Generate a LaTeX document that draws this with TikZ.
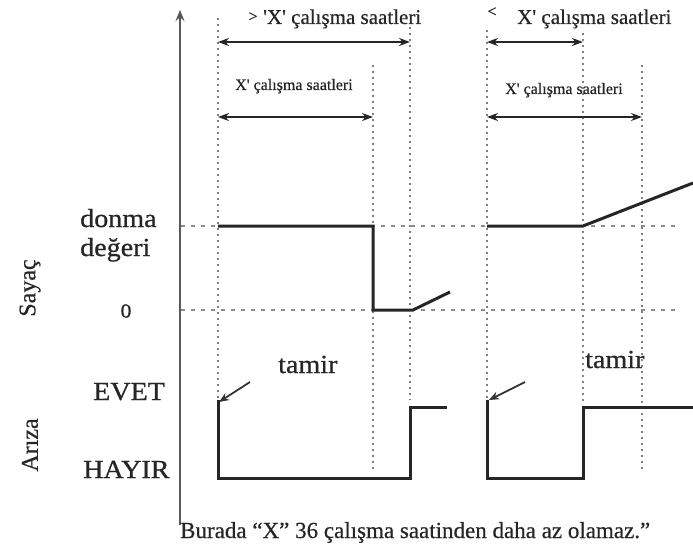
\documentclass[tikz,border=0pt]{standalone}
\usepackage{fontspec}
\setmainfont{Liberation Serif}
\newfontfamily\labfont[FakeStretch=1.08,FakeBold=0.8]{Liberation Serif}
\newfontfamily\txtfont[FakeBold=0.5]{Liberation Serif}
\usetikzlibrary{arrows.meta}
\begin{document}
\begin{tikzpicture}[x=1pt,y=-1pt,
  vgrid/.style={draw=black!50, line width=1.8pt, dash pattern=on 1.8pt off 4.2pt},
  hgrid/.style={draw=black!45, line width=1.6pt, dash pattern=on 4pt off 6pt},
  sig/.style={draw=black!85, line width=3pt, line join=miter},
  axisline/.style={draw=black!65, line width=2.2pt, -{Stealth[length=11pt,width=9pt]}},
  dimline/.style={draw=black!85, line width=2.2pt, {Stealth[length=11pt,width=8pt]}-{Stealth[length=11pt,width=8pt]}},
  ptr/.style={draw=black!80, line width=1.8pt, -{Stealth[length=10pt,width=8pt]}},
  labtxt/.style={font=\labfont\fontsize{26}{30}\selectfont, inner sep=0pt, text=black!85},
  sidetxt/.style={font=\txtfont\fontsize{24}{28}\selectfont, inner sep=0pt, rotate=90, text=black!85},
  toptxt/.style={font=\txtfont\fontsize{21}{25}\selectfont, inner sep=0pt, text=black!85},
  smalltxt/.style={font=\txtfont\fontsize{16}{19}\selectfont, inner sep=0pt, text=black!85},
  captxt/.style={font=\txtfont\fontsize{23}{27}\selectfont, inner sep=0pt, text=black!85}]
\useasboundingbox (0,0) rectangle (693,559);

% axis
\coordinate (ax0) at (180,525);
\coordinate (ax1) at (180,10);
\draw[axisline] (ax0) -- (ax1);

% vertical dotted guides
\coordinate (v1t) at (218,18);  \coordinate (v1b) at (218,400);
\coordinate (v2t) at (373,65);  \coordinate (v2b) at (373,472);
\coordinate (v3t) at (410,27);  \coordinate (v3b) at (410,400);
\coordinate (v4t) at (487,30);  \coordinate (v4b) at (487,400);
\coordinate (v5t) at (583,33);  \coordinate (v5b) at (583,405);
\coordinate (v6t) at (642,65);  \coordinate (v6b) at (642,472);
\foreach \i in {1,...,6} \draw[vgrid] (v\i t) -- (v\i b);

% horizontal dashed levels
\coordinate (h1a) at (181,226); \coordinate (h1b) at (680,226);
\coordinate (h2a) at (181,310); \coordinate (h2b) at (680,310);
\draw[hgrid] (h1a) -- (h1b);
\draw[hgrid] (h2a) -- (h2b);

% counter signals
\coordinate (s1) at (218,226); \coordinate (s2) at (373,226);
\coordinate (s3) at (373,310); \coordinate (s4) at (413,310);
\coordinate (s5) at (450,292);
\draw[sig] (s1) -- (s2) -- (s3) -- (s4) -- (s5);
\coordinate (r1) at (487,226); \coordinate (r2) at (583,226);
\coordinate (r3) at (693,183);
\draw[sig] (r1) -- (r2) -- (r3);

% fault signals
\coordinate (f1) at (218,400); \coordinate (f2) at (218,478);
\coordinate (f3) at (410,478); \coordinate (f4) at (410,407);
\coordinate (f5) at (447,407);
\draw[sig] (f1) -- (f2) -- (f3) -- (f4) -- (f5);
\coordinate (g1) at (487,400); \coordinate (g2) at (487,478);
\coordinate (g3) at (583,478); \coordinate (g4) at (583,407);
\coordinate (g5) at (693,407);
\draw[sig] (g1) -- (g2) -- (g3) -- (g4) -- (g5);

% pointer arrows
\coordinate (p1s) at (250,382); \coordinate (p1e) at (219,402);
\coordinate (p2s) at (525,382); \coordinate (p2e) at (489,400);
\draw[ptr] (p1s) -- (p1e);
\draw[ptr] (p2s) -- (p2e);

% dimension arrows
\coordinate (d1a) at (218,42);  \coordinate (d1b) at (410,42);
\coordinate (d2a) at (218,117); \coordinate (d2b) at (373,117);
\coordinate (d3a) at (487,42);  \coordinate (d3b) at (583,42);
\coordinate (d4a) at (487,117); \coordinate (d4b) at (642,117);
\draw[dimline] (d1a) -- (d1b);
\draw[dimline] (d2a) -- (d2b);
\draw[dimline] (d3a) -- (d3b);
\draw[dimline] (d4a) -- (d4b);

% top labels
\node[toptxt, font=\txtfont\fontsize{16}{18}\selectfont] (gt) at (253,17) {>};
\node[toptxt, anchor=base west] (t1) at (263,24) {'X' çalışma saatleri};
\node[toptxt, font=\txtfont\fontsize{16}{18}\selectfont] (lt) at (492,12) {<};
\node[toptxt, anchor=base west] (t2) at (517,24) {X' çalışma saatleri};
\node[smalltxt, anchor=base west] (t3) at (235,90) {X' çalışma saatleri};
\node[smalltxt, anchor=base west] (t4) at (505,94) {X' çalışma saatleri};

% left labels
\node[labtxt, anchor=base west] (donma) at (80,227) {donma};
\node[labtxt, anchor=base west] (deger) at (80,256) {değeri};
\node[labtxt, font=\labfont\fontsize{20}{22}\selectfont] (zero) at (126,311) {0};
\node[labtxt, anchor=base west] (evet) at (93,400) {EVET};
\node[labtxt, anchor=base west] (hayir) at (83,478) {HAYIR};
\node[sidetxt] (sayac) at (30,288) {Sayaç};
\node[sidetxt] (ariza) at (30,445) {Arıza};

% repair labels
\node[labtxt, anchor=base west] (tam1) at (278,373) {tamir};
\node[labtxt, anchor=base west] (tam2) at (585,368) {tamir};

% caption
\node[captxt, anchor=base west] (caption) at (180,538) {Burada “X” 36 çalışma saatinden daha az olamaz.”};
\end{tikzpicture}
\end{document}
